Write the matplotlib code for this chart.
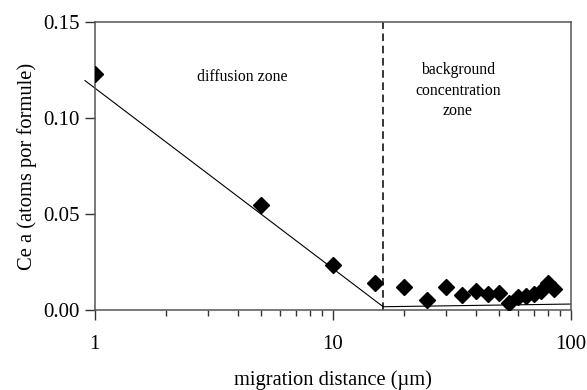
import numpy as np
import matplotlib
matplotlib.use('Agg')
import matplotlib.pyplot as plt
from matplotlib.ticker import FixedLocator, NullFormatter

plt.rcParams['font.family'] = ['Liberation Serif', 'DejaVu Serif']

# measured points
dist = [1, 5, 10, 15, 20, 25, 30, 35, 40, 45, 50, 55, 60, 65, 70, 75, 80, 85]
ce = [0.123, 0.0545, 0.0234, 0.0139, 0.0121, 0.0052, 0.0118, 0.0080, 0.0097,
      0.0083, 0.0087, 0.0038, 0.0069, 0.0075, 0.0083, 0.0097, 0.0142, 0.0111]

# model line
line_x = [0.91, 16.3, 100]
line_y = [0.1195, 0.0017, 0.0031]

boundary = 16.3

fig = plt.figure(figsize=(5.87, 3.90), dpi=100)
ax = fig.add_axes([94.7/587, 1 - 310/390, (570.7-94.7)/587, (310-22)/390])

ax.plot(line_x, line_y, color='black', lw=0.8, clip_on=False, zorder=2)
ax.plot(dist, ce, linestyle='none', marker='D', ms=8.5, color='black', zorder=3)
ax.axvline(boundary, color='black', lw=1.1, linestyle=(0, (5, 3)), zorder=1)

ax.set_xscale('log')
ax.set_xlim(1, 100)
ax.set_ylim(0, 0.15)
ax.set_yticks([0.0, 0.05, 0.10, 0.15])
ax.set_yticklabels(['0.00', '0.05', '0.10', '0.15'])
ax.set_xticks([1, 10, 100])
ax.set_xticklabels(['1', '10', '100'])
ax.xaxis.set_minor_locator(FixedLocator([k * 10**d for d in (0, 1) for k in range(2, 10)]))
ax.xaxis.set_minor_formatter(NullFormatter())

ax.tick_params(axis='both', which='major', direction='out', length=7, width=1,
               labelsize=15, color='#333333')
ax.tick_params(axis='x', which='major', pad=11)
ax.tick_params(axis='y', which='major', pad=4)
ax.tick_params(axis='x', which='minor', direction='out', length=4, width=1, color='#333333')
for s in ax.spines.values():
    s.set_color('#555555')
    s.set_linewidth(1.1)

ax.text(4.15, 0.1215, 'diffusion zone', ha='center', va='center', fontsize=11.3)
ax.text(33.6, 0.1143, 'background\nconcentration\nzone', ha='center', va='center',
        fontsize=11.3, linespacing=1.35)

ax.set_xlabel('migration distance (\u00b5m)', fontsize=14.8, labelpad=12)
ax.set_ylabel('Ce a (atoms por formule)', fontsize=14.8, labelpad=4)

fig.savefig('out.png', dpi=100)
